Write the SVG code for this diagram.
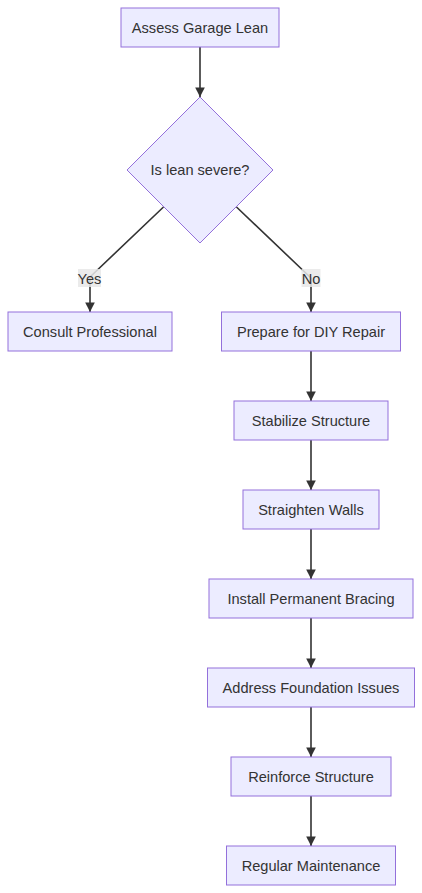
<svg xmlns="http://www.w3.org/2000/svg" width="422" height="893" viewBox="0 0 422 893">
<style>
.node rect, .node polygon { fill: #ECECFF; stroke: #9370DB; stroke-width: 1; }
.node text, .elabel text { font-family: "Liberation Sans", Arial, sans-serif; font-size: 14.6px; fill: #333333; text-anchor: middle; }
.edge { fill: none; stroke: #333333; stroke-width: 1.6; marker-end: url(#arrow); }
.elabel rect { fill: #e8e8e8; fill-opacity: 0.85; }
</style>
<defs>
<marker id="arrow" viewBox="0 0 10 10" refX="10" refY="5" markerWidth="6" markerHeight="6" markerUnits="strokeWidth" orient="auto">
<path d="M0,0 L10,5 L0,10 z" fill="#333333"/>
</marker>
</defs>
<rect width="422" height="893" fill="#ffffff"/>
<g id="connectors">
<path class="edge" d="M200,47 L200,97"/>
<path class="edge" d="M163.5,207 L90,277 L90,312"/>
<path class="edge" d="M236.5,207 L311,278 L311,312"/>
<path class="edge" d="M311,351 L311,401"/>
<path class="edge" d="M311,440 L311,490"/>
<path class="edge" d="M311,529 L311,579"/>
<path class="edge" d="M311,618 L311,668"/>
<path class="edge" d="M311,707 L311,757"/>
<path class="edge" d="M311,796 L311,846"/>
</g>
<g id="label-yes" class="elabel"><rect x="78" y="269" width="23" height="18"/><text x="89.5" y="283.5">Yes</text></g>
<g id="label-no" class="elabel"><rect x="301.5" y="269" width="19" height="18"/><text x="311" y="283.5">No</text></g>
<g id="A" class="node"><rect x="121" y="8" width="158" height="39"/><text x="200" y="32.5">Assess Garage Lean</text></g>
<g id="B" class="node"><polygon points="200,97 273,170 200,243 127,170"/><text x="200" y="175">Is lean severe?</text></g>
<g id="C" class="node"><rect x="8" y="312" width="164" height="39"/><text x="90" y="336.5">Consult Professional</text></g>
<g id="D" class="node"><rect x="221.5" y="312" width="179" height="39"/><text x="311" y="336.5">Prepare for DIY Repair</text></g>
<g id="E" class="node"><rect x="234" y="401" width="154" height="39"/><text x="311" y="425.5">Stabilize Structure</text></g>
<g id="F" class="node"><rect x="243" y="490" width="136" height="39"/><text x="311" y="514.5">Straighten Walls</text></g>
<g id="G" class="node"><rect x="209" y="579" width="204" height="39"/><text x="311" y="603.5">Install Permanent Bracing</text></g>
<g id="H" class="node"><rect x="207.5" y="668" width="207" height="39"/><text x="311" y="692.5">Address Foundation Issues</text></g>
<g id="I" class="node"><rect x="231" y="757" width="160" height="39"/><text x="311" y="781.5">Reinforce Structure</text></g>
<g id="J" class="node"><rect x="226.5" y="846" width="169" height="39"/><text x="311" y="870.5">Regular Maintenance</text></g>
</svg>
